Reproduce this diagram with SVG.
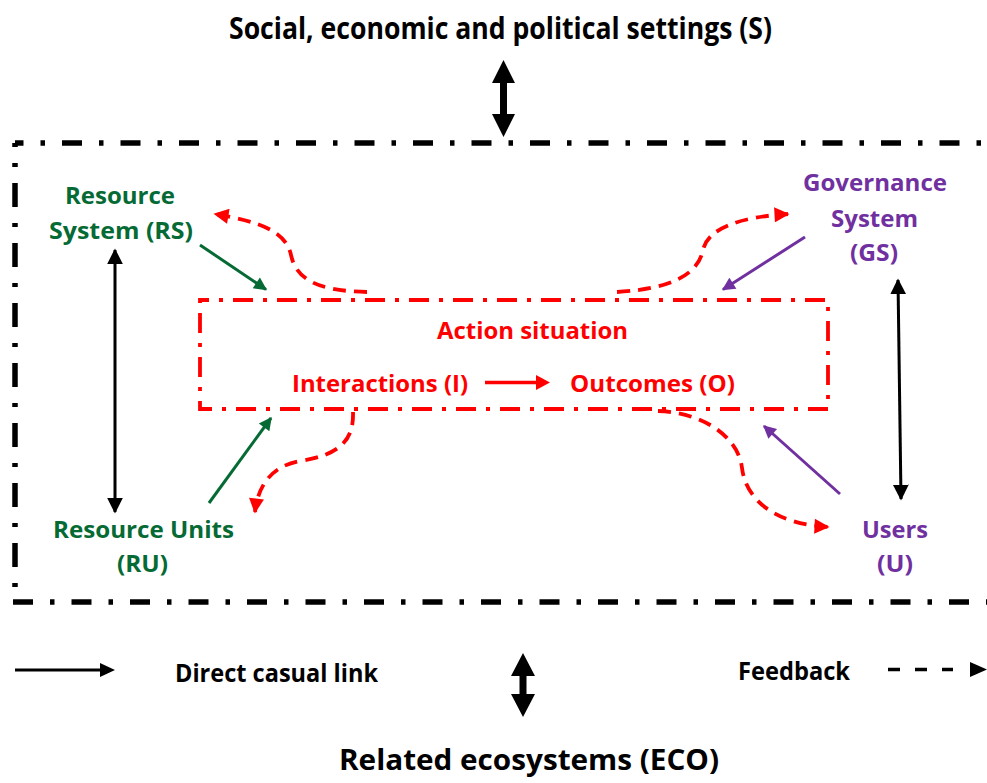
<svg xmlns="http://www.w3.org/2000/svg" width="987" height="783" viewBox="0 0 987 783">
  <style>
    text { font-family: "Open Sans", "Noto Sans", "Liberation Sans", sans-serif; font-weight: bold; }
    .blk { fill: #000000; }
    .grn { fill: #056a34; }
    .pur { fill: #7030a0; }
    .red { fill: #ff0000; }
    .frame { fill: none; stroke: #000000; stroke-width: 5.5; }
    .box { fill: none; stroke: #ff0000; stroke-width: 3.8; stroke-dasharray: 20 10 4 10; stroke-dashoffset: 11; }
    .fb { fill: none; stroke: #ff0000; stroke-width: 3.8; stroke-dasharray: 13 8; }
    .link { fill: none; stroke-width: 3; }
  </style>
  <defs>
    <marker id="mRed" viewBox="0 0 10 10" refX="9" refY="5" markerWidth="17" markerHeight="15" markerUnits="userSpaceOnUse" orient="auto">
      <path d="M0,0 L10,5 L0,10 z" fill="#ff0000"/>
    </marker>
    <marker id="mGrn" viewBox="0 0 10 10" refX="9" refY="5" markerWidth="15" markerHeight="13" markerUnits="userSpaceOnUse" orient="auto">
      <path d="M0,0 L10,5 L0,10 z" fill="#056a34"/>
    </marker>
    <marker id="mPur" viewBox="0 0 10 10" refX="9" refY="5" markerWidth="15" markerHeight="13" markerUnits="userSpaceOnUse" orient="auto">
      <path d="M0,0 L10,5 L0,10 z" fill="#7030a0"/>
    </marker>
    <marker id="mBlk" viewBox="0 0 10 10" refX="9" refY="5" markerWidth="16" markerHeight="16" markerUnits="userSpaceOnUse" orient="auto-start-reverse">
      <path d="M0,0 L10,5 L0,10 z" fill="#000000"/>
    </marker>
  </defs>

  <!-- outer setting frame -->
  <g id="frame">
    <path class="frame" d="M15,143 H995" stroke-dasharray="20 17 4.5 17" stroke-dashoffset="11.5"/>
    <path class="frame" d="M13,602 H995" stroke-dasharray="20 17 4.5 17"/>
    <path class="frame" d="M15,602 V143" stroke-dasharray="24 16 4 16" stroke-dashoffset="25"/>
  </g>

  <g id="title-S">
    <text class="blk" x="500.5" y="39" font-size="29.5" text-anchor="middle" textLength="543" lengthAdjust="spacingAndGlyphs">Social, economic and political settings (S)</text>
  </g>

  <g id="node-RS">
    <text class="grn" x="120" y="204" font-size="24" text-anchor="middle" textLength="110" lengthAdjust="spacingAndGlyphs">Resource</text>
    <text class="grn" x="121" y="239" font-size="24" text-anchor="middle" textLength="144" lengthAdjust="spacingAndGlyphs">System (RS)</text>
  </g>

  <g id="node-GS">
    <text class="pur" x="875" y="191" font-size="24" text-anchor="middle" textLength="144" lengthAdjust="spacingAndGlyphs">Governance</text>
    <text class="pur" x="874.5" y="227" font-size="24" text-anchor="middle" textLength="87" lengthAdjust="spacingAndGlyphs">System</text>
    <text class="pur" x="874" y="261" font-size="24" text-anchor="middle" textLength="48" lengthAdjust="spacingAndGlyphs">(GS)</text>
  </g>

  <g id="node-RU">
    <text class="grn" x="143.5" y="538" font-size="24" text-anchor="middle" textLength="181" lengthAdjust="spacingAndGlyphs">Resource Units</text>
    <text class="grn" x="142.5" y="572" font-size="24" text-anchor="middle" textLength="51" lengthAdjust="spacingAndGlyphs">(RU)</text>
  </g>

  <g id="node-U">
    <text class="pur" x="895" y="538" font-size="24" text-anchor="middle" textLength="66" lengthAdjust="spacingAndGlyphs">Users</text>
    <text class="pur" x="895" y="572" font-size="24" text-anchor="middle" textLength="36" lengthAdjust="spacingAndGlyphs">(U)</text>
  </g>

  <g id="node-action">
    <rect class="box" x="200" y="300" width="628" height="109"/>
    <text class="red" x="532.5" y="339" font-size="23" text-anchor="middle" textLength="191" lengthAdjust="spacingAndGlyphs">Action situation</text>
    <text class="red" x="292" y="392" font-size="23" textLength="176" lengthAdjust="spacingAndGlyphs">Interactions (I)</text>
    <text class="red" x="570" y="392" font-size="23" textLength="165" lengthAdjust="spacingAndGlyphs">Outcomes (O)</text>
    <line x1="485" y1="382.5" x2="538" y2="382.5" stroke="#ff0000" stroke-width="3.5"/>
    <polygon class="red" points="536,375 550,382.5 536,390"/>
  </g>

  <g id="node-ECO">
    <text class="blk" x="529" y="770" font-size="28" text-anchor="middle" textLength="380" lengthAdjust="spacingAndGlyphs">Related ecosystems (ECO)</text>
  </g>

  <g id="connectors">
    <!-- S <-> frame -->
    <polygon class="blk" points="503.5,60 515,83 507,83 507,114 515,114 503.5,137 492,114 500,114 500,83 492,83"/>
    <!-- ECO <-> frame -->
    <polygon class="blk" points="523,653 535,676 526.5,676 526.5,694 535,694 523,717 511,694 519.5,694 519.5,676 511,676"/>
    <!-- RS <-> RU -->
    <line class="link" x1="115" y1="250" x2="115" y2="512" stroke="#000000" marker-start="url(#mBlk)" marker-end="url(#mBlk)"/>
    <!-- GS <-> U -->
    <line class="link" x1="898" y1="280" x2="901" y2="499" stroke="#000000" marker-start="url(#mBlk)" marker-end="url(#mBlk)"/>
    <!-- RS -> action -->
    <line class="link" x1="200" y1="245" x2="266" y2="289.5" stroke="#056a34" marker-end="url(#mGrn)"/>
    <!-- RU -> action -->
    <line class="link" x1="209" y1="503" x2="271" y2="418" stroke="#056a34" marker-end="url(#mGrn)"/>
    <!-- GS -> action -->
    <line class="link" x1="805" y1="237" x2="723" y2="289.5" stroke="#7030a0" marker-end="url(#mPur)"/>
    <!-- U -> action -->
    <line class="link" x1="840" y1="494" x2="764" y2="426" stroke="#7030a0" marker-end="url(#mPur)"/>
    <!-- feedback curves -->
    <path class="fb" d="M367,292 C315,291 296,278 291,255 C286,232 262,222 215,214" marker-end="url(#mRed)"/>
    <path class="fb" d="M617,292 C670,289 698,275 703,250 C708,228 740,217 788,214" marker-end="url(#mRed)"/>
    <path class="fb" d="M658,411 C700,412 738,435 742,468 C746,500 775,524 828,527" marker-end="url(#mRed)"/>
    <path class="fb" d="M353,412 C354,440 340,455 300,461 C272,466 258,485 255,512" marker-end="url(#mRed)"/>
  </g>

  <g id="legend">
    <line x1="15" y1="670" x2="102" y2="670" stroke="#000000" stroke-width="3"/>
    <polygon class="blk" points="100,663 115,670 100,677"/>
    <text class="blk" x="175" y="682" font-size="25" textLength="203" lengthAdjust="spacingAndGlyphs">Direct casual link</text>
    <text class="blk" x="738" y="680" font-size="25" textLength="112" lengthAdjust="spacingAndGlyphs">Feedback</text>
    <path d="M888,669.5 H900 M915,669.5 H927 M942,669.5 H953" stroke="#000000" stroke-width="3.5" fill="none"/>
    <polygon class="blk" points="970,662 987,669.5 970,677"/>
  </g>
</svg>
